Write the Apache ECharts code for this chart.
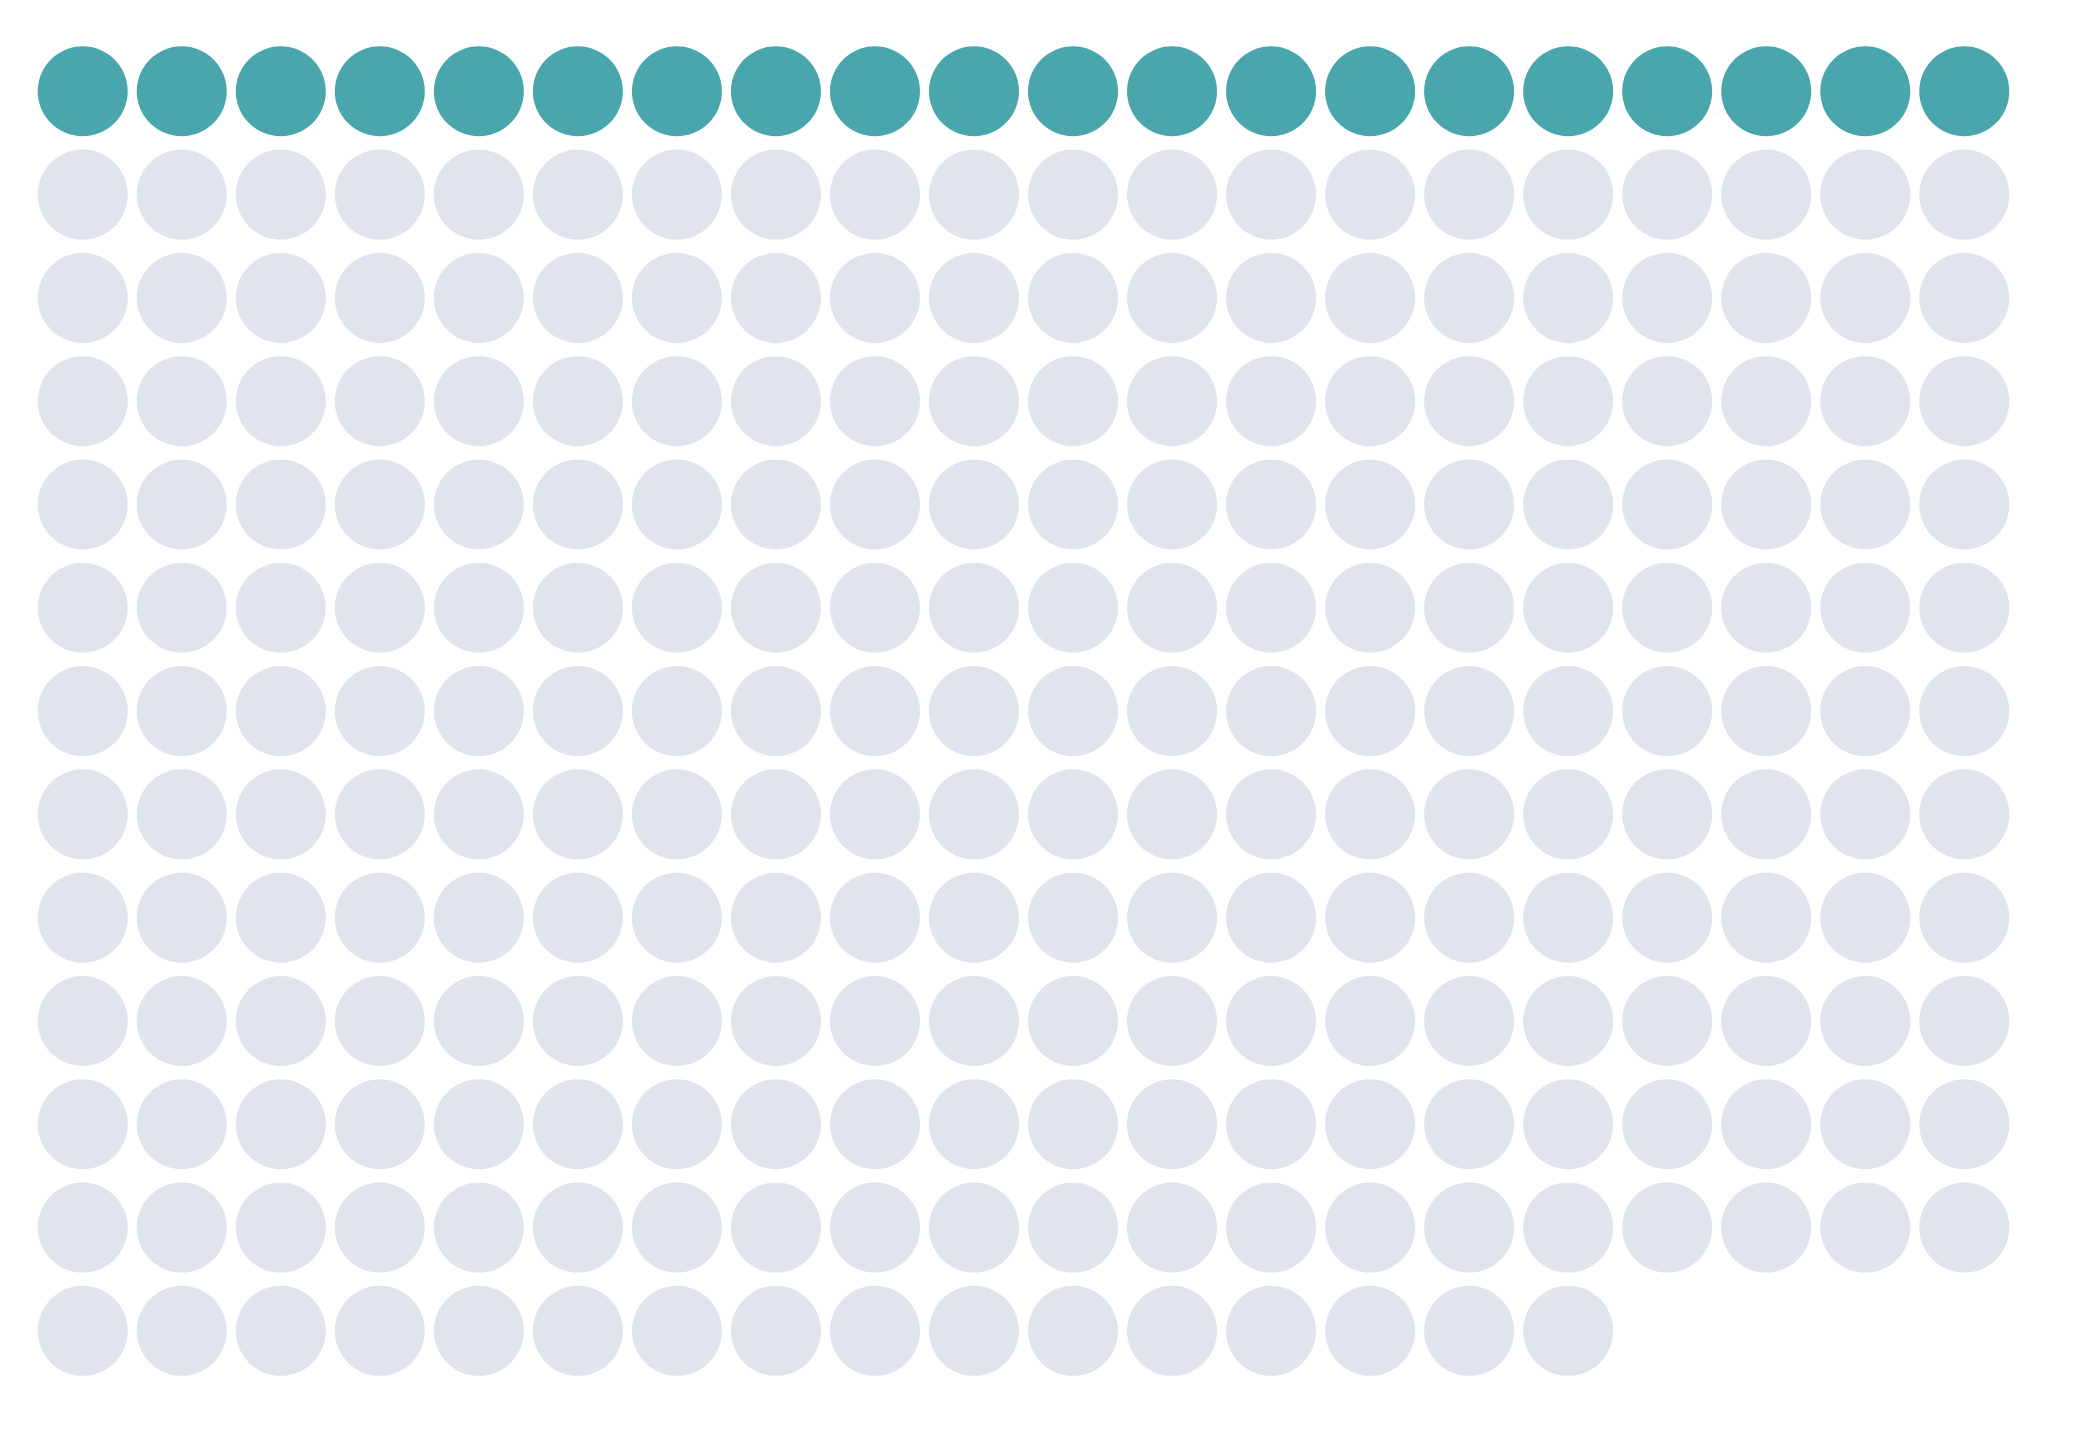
<!DOCTYPE html>
<html>
<head>
<meta charset="utf-8">
<script src="https://cdn.jsdelivr.net/npm/echarts@6/dist/echarts.min.js"></script>
<style>
html,body{margin:0;padding:0;background:#fff;}
#chart{width:2084px;height:1429px;}
</style>
</head>
<body>
<div id="chart"></div>
<script>
// Waffle data
const categories = ['Highlighted', 'Other'];
const counts = [20, 236];
const colors = ['#48A6AC', '#E0E4EC'];
const columns = 20;

// Build cell positions (column, row) in reading order
const seriesData = [];
let idx = 0;
categories.forEach(function (cat, ci) {
  const pts = [];
  for (let k = 0; k < counts[ci]; k++) {
    const col = (idx % columns) + 1;
    const row = Math.floor(idx / columns) + 1;
    pts.push([col, row]);
    idx++;
  }
  seriesData.push(pts);
});
const rows = Math.ceil(idx / columns);

const chart = echarts.init(document.getElementById('chart'), null, {renderer: 'canvas'});
chart.setOption({
  animation: false,
  backgroundColor: '#ffffff',
  grid: {left: 33.2, right: 70.2, top: 39.65, bottom: 46.5},
  xAxis: {type: 'value', min: 0.5, max: columns + 0.5, show: false},
  yAxis: {type: 'value', min: 0.5, max: rows + 0.5, inverse: true, show: false},
  series: categories.map(function (cat, ci) {
    return {
      name: cat,
      type: 'scatter',
      symbol: 'circle',
      symbolSize: 90,
      data: seriesData[ci],
      itemStyle: {color: colors[ci], opacity: 1},
      emphasis: {disabled: true}
    };
  })
});
</script>
</body>
</html>
